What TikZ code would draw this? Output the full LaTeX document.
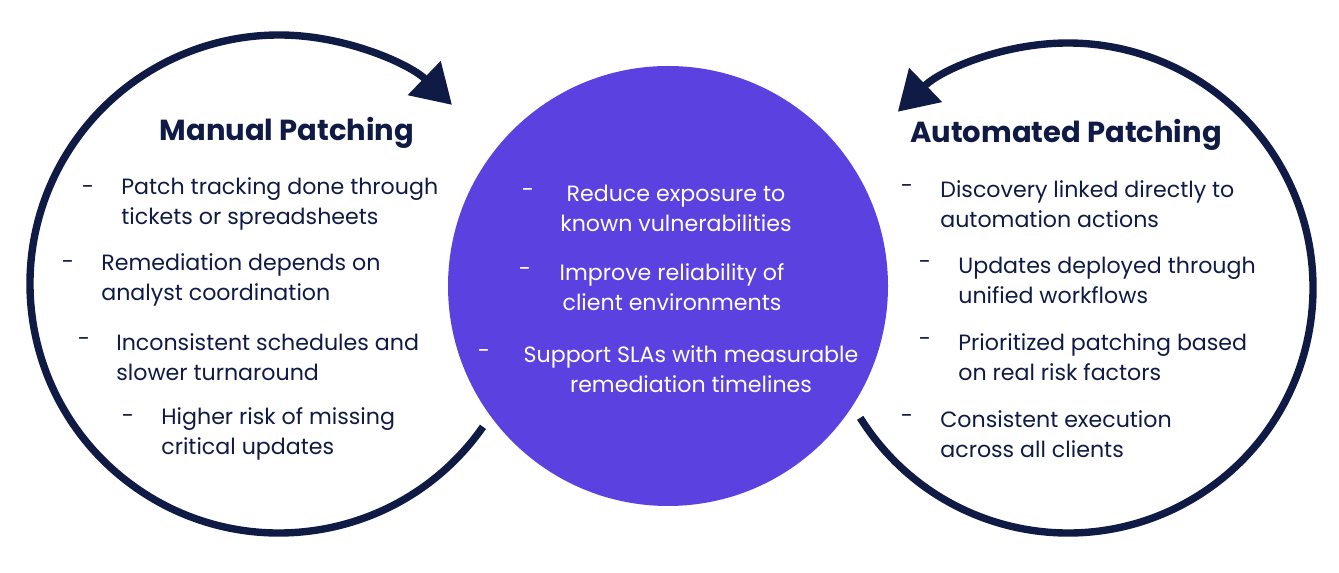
\documentclass[tikz,border=0pt]{standalone}
\usepackage{fontspec}
\setmainfont{Poppins}
\usetikzlibrary{arrows.meta,calc}
\definecolor{navy}{HTML}{0F1A45}
\definecolor{purp}{HTML}{5B41DF}
\begin{document}
\begin{tikzpicture}[x=0.02cm,y=-0.02cm,
  ring/.style={draw=navy,line width=4.2pt},
  ttl/.style={text=navy,font=\fontsize{16.5}{19}\selectfont\bfseries},
  itm/.style={text=navy,font=\fontsize{12.6}{17}\selectfont,align=left,anchor=west,inner sep=0},
  witm/.style={text=white,font=\fontsize{12.6}{17}\selectfont,align=center,inner sep=0},
  dsh/.style={inner sep=0,font=\fontsize{12.6}{17}\selectfont}]
\useasboundingbox (0,0) rectangle (1339,573);
\coordinate (lc) at (279,284);
\coordinate (rc) at (1068,288);
\draw[ring,-{Triangle[length=22pt,width=26pt]}] ($(lc)+(35:249)$) arc[start angle=35,end angle=314,radius=249];
\draw[ring,-{Triangle[length=22pt,width=26pt]}] ($(rc)+(148:245)$) arc[start angle=148,end angle=-134,radius=245];
\node[circle,fill=purp,minimum size=440*0.02cm,inner sep=0] (mid) at (668,286) {};
\node[ttl] (lt) at (287,133) {Manual Patching};
\node[ttl] (rt) at (1066,135) {Automated Patching};
% left
\node[dsh,text=navy] (ld1) at (88,190) {-};
\node[itm] (l1) at (121,204) {Patch tracking done through\\tickets or spreadsheets};
\node[dsh,text=navy] (ld2) at (68,265) {-};
\node[itm] (l2) at (101,280) {Remediation depends on\\analyst coordination};
\node[dsh,text=navy] (ld3) at (84,342) {-};
\node[itm] (l3) at (116,357) {Inconsistent schedules and\\slower turnaround};
\node[dsh,text=navy] (ld4) at (128,419) {-};
\node[itm] (l4) at (161,434) {Higher risk of missing\\critical updates};
% middle
\node[dsh,text=white] (md1) at (528,193) {-};
\node[witm] (m1) at (676,208) {Reduce exposure to\\known vulnerabilities};
\node[dsh,text=white] (md2) at (525,272) {-};
\node[witm] (m2) at (672,287) {Improve reliability of\\client environments};
\node[dsh,text=white] (md3) at (484,354) {-};
\node[witm] (m3) at (691,369) {Support SLAs with measurable\\remediation timelines};
% right
\node[dsh,text=navy] (rd1) at (907,189) {-};
\node[itm] (r1) at (940,204) {Discovery linked directly to\\automation actions};
\node[dsh,text=navy] (rd2) at (925,265) {-};
\node[itm] (r2) at (958,280) {Updates deployed through\\unified workflows};
\node[dsh,text=navy] (rd3) at (925,342) {-};
\node[itm] (r3) at (958,357) {Prioritized patching based\\on real risk factors};
\node[dsh,text=navy] (rd4) at (907,419) {-};
\node[itm] (r4) at (940,434) {Consistent execution\\across all clients};
\end{tikzpicture}
\end{document}
